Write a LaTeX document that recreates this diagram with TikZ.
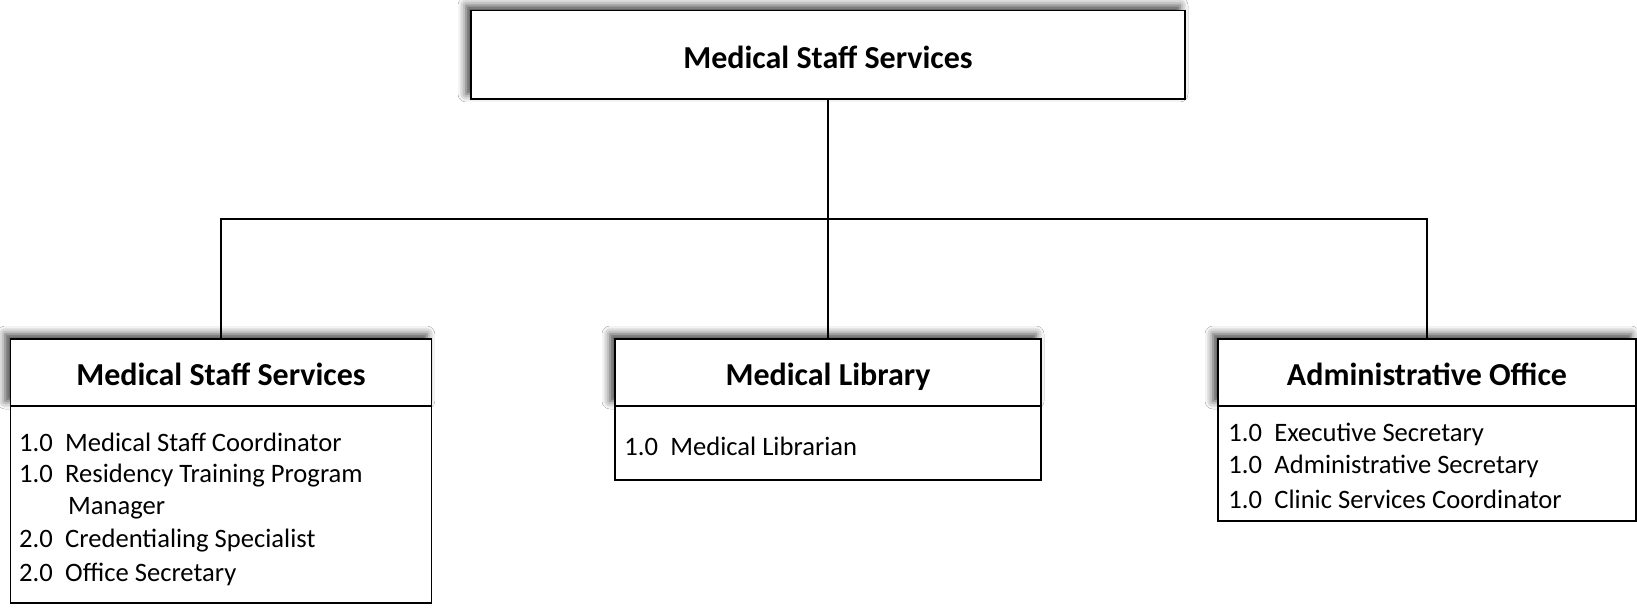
\documentclass[tikz,border=0pt]{standalone}
\usepackage{fontspec}
\setmainfont{Carlito}
\usetikzlibrary{shadows.blur}
\begin{document}
\begin{tikzpicture}[x=0.5pt,y=-0.5pt,
  box/.style={draw=black,line width=0.6pt,fill=white,rectangle,inner sep=0pt},
  hdr/.style={box,blur shadow={shadow xshift=-2.5pt,shadow yshift=2.5pt,shadow blur radius=4pt,shadow opacity=75},font=\fontsize{16}{19}\selectfont\bfseries,text height=13.5pt,text depth=0pt},
  item/.style={anchor=west,inner sep=0pt,font=\fontsize{13.3}{16}\selectfont},
  conn/.style={draw=black,line width=0.6pt}]
\useasboundingbox (0,0) rectangle (1637,608);
\fill[white] (0,0) rectangle (1637,608);
% top
\node[hdr,minimum width=357pt,minimum height=44.3pt] (top) at (828,54.7) {Medical Staff Services};
% left
\node[hdr,minimum width=210.8pt,minimum height=33.5pt] (h1) at (221,372.5) {Medical Staff Services};
\node[box,minimum width=210.8pt,minimum height=98.5pt] (b1) at (221,504.5) {};
% middle
\node[hdr,minimum width=213pt,minimum height=33.5pt] (h2) at (828,372.5) {Medical Library};
\node[box,minimum width=213pt,minimum height=37pt] (b2) at (828,443) {};
% right
\node[hdr,minimum width=209pt,minimum height=33.5pt] (h3) at (1427,372.5) {Administrative Office};
\node[box,minimum width=209pt,minimum height=57.5pt] (b3) at (1427,463.5) {};
% items
\newcommand{\num}[1]{\makebox[23pt][l]{#1}}
\node[item] (l1) at (18.8,442.6) {\num{1.0}Medical Staff Coordinator};
\node[item] (l2) at (18.8,476) {\num{1.0}Residency Training Program};
\node[item] (l3) at (18.8,508) {\hspace*{24.5pt}Manager};
\node[item] (l4) at (18.8,540.7) {\num{2.0}Credentialing Specialist};
\node[item] (l5) at (18.8,574) {\num{2.0}Office Secretary};
\node[item] (m1) at (624,446.7) {\num{1.0}Medical Librarian};
\node[item] (r1) at (1228,434) {\num{1.0}Executive Secretary};
\node[item] (r2) at (1228,466.6) {\num{1.0}Administrative Secretary};
\node[item] (r3) at (1228,499) {\num{1.0}Clinic Services Coordinator};
% connectors
\coordinate (j) at (828,219);
\draw[conn] (top.south) -- (h2.north);
\draw[conn] (j) -| (h1.north);
\draw[conn] (j) -| (h3.north);
\end{tikzpicture}
\end{document}
